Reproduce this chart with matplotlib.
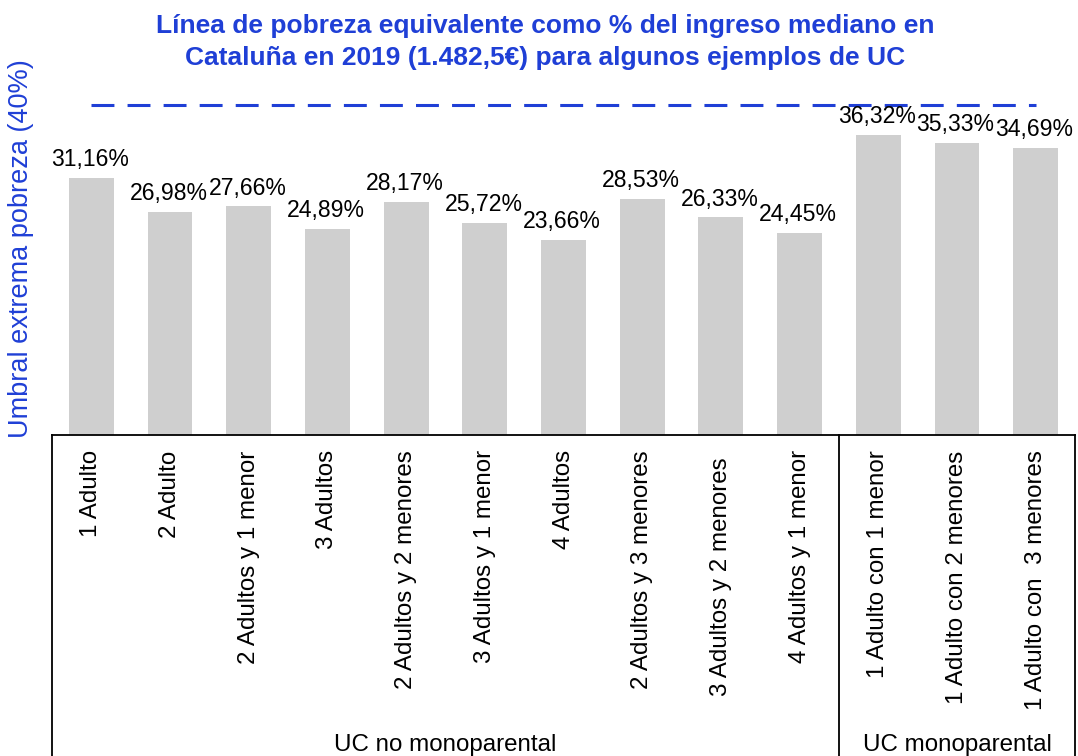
import matplotlib
matplotlib.use("Agg")
from matplotlib import pyplot as plt
from matplotlib.transforms import blended_transform_factory

plt.rcParams['font.family'] = ['Liberation Sans', 'DejaVu Sans']

# data
categories = ["1 Adulto", "2 Adulto", "2 Adultos y 1 menor", "3 Adultos",
              "2 Adultos y 2 menores", "3 Adultos y 1 menor", "4 Adultos",
              "2 Adultos y 3 menores", "3 Adultos y 2 menores ", "4 Adultos y 1 menor",
              "1 Adulto con 1 menor", "1 Adulto con 2 menores", "1 Adulto con  3 menores"]
values = [31.16, 26.98, 27.66, 24.89, 28.17, 25.72, 23.66,
          28.53, 26.33, 24.45, 36.32, 35.33, 34.69]
threshold = [40] * len(categories)
groups = ["UC no monoparental", "UC monoparental"]
group_sizes = [10, 3]

blue = '#1f3fd6'

fig = plt.figure(figsize=(10.78, 7.56), dpi=100)
# axes: plot area from x=52 to 1075 px, baseline at y=435 px
ax = fig.add_axes([52 / 1078, 1 - 435 / 756, 1023 / 1078, 347 / 756])

x = list(range(len(categories)))
ax.bar(x, values, width=0.57, color='#cfcfcf')
ax.plot(x, threshold, color=blue, lw=2.2, dashes=(7.5, 4.3), clip_on=False)

for xi, v in zip(x, values):
    ax.annotate(f"{v:.2f}%".replace('.', ','), (xi, v), xytext=(-1, 5),
                textcoords='offset points', ha='center', va='bottom', fontsize=16.6)

ax.set_xlim(-0.5, len(categories) - 0.5)
ax.set_ylim(0, 42)
ax.set_yticks([])
ax.set_xticks(x)
ax.set_xticklabels(categories, rotation=90, fontsize=17.4)
ax.tick_params(axis='x', length=0, pad=11)
for s in ['top', 'right', 'left']:
    ax.spines[s].set_visible(False)
ax.spines['bottom'].set_linewidth(1.3)

ax.set_ylabel("Umbral extrema pobreza (40%)", color=blue, fontsize=19.5)
ax.yaxis.set_label_coords(-0.0176, 0.5375)

# group boxes under the axis
tr = blended_transform_factory(ax.transData, fig.transFigure)
y_top = 1 - 435 / 756
start = -0.5
for name, n in zip(groups, group_sizes):
    ax.plot([start, start], [y_top, 0], color='black', lw=1.3, transform=tr, clip_on=False)
    ax.text(start + n / 2, 0.014, name, transform=tr, ha='center', va='center', fontsize=17.4)
    start += n
ax.plot([start, start], [y_top, 0], color='black', lw=1.3, transform=tr, clip_on=False)

fig.suptitle("Línea de pobreza equivalente como % del ingreso mediano en\n"
             "Cataluña en 2019 (1.482,5€) para algunos ejemplos de UC",
             x=0.5056, y=0.982, color=blue, fontsize=19, fontweight='bold', linespacing=1.45)

fig.savefig("out.png", dpi=100)
